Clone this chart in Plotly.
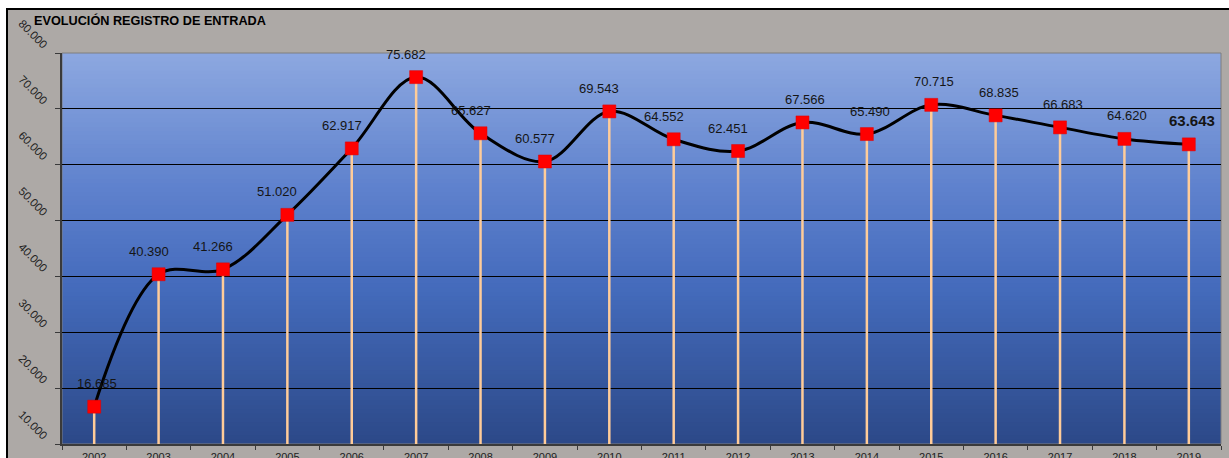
import plotly.graph_objects as go

# ---- data ----
years = [str(y) for y in range(2002, 2020)]
values = [16685, 40390, 41266, 51020, 62917, 75682, 65627, 60577, 69543,
          64552, 62451, 67566, 65490, 70715, 68835, 66683, 64620, 63643]
y_ticks = [10000, 20000, 30000, 40000, 50000, 60000, 70000, 80000]
title_text = "EVOLUCIÓN REGISTRO DE ENTRADA"
# horizontal nudge (px) of each value label, as placed in the original
label_nudge = [3, -10, -10, -10, -10, -10, -10, -10, -10, -10, -10, 3, 3, 3, 3, 3, 3, 3]

W, H = 1229, 458
ML, MR, MT, MB = 62, 8, 53, 14
PW, PH = W - ML - MR, H - MT - MB
y_min, y_max = y_ticks[0], y_ticks[-1]

FONT = "Liberation Sans, Arial, sans-serif"


def px_x(p):
    return (p - ML) / PW


def px_y(p):
    return (H - MB - p) / PH


fig = go.Figure()

# drop lines (stems) from the axis floor up to each point
fig.add_trace(go.Scatter(
    x=years, y=values, mode="markers",
    marker=dict(size=1, opacity=0),
    error_y=dict(type="data", symmetric=False,
                 array=[0] * len(values),
                 arrayminus=[v - y_min for v in values],
                 color="#FFCC99", thickness=2.5, width=0),
    hoverinfo="skip", showlegend=False,
))

# smoothed line with square markers
fig.add_trace(go.Scatter(
    x=years, y=values, mode="lines+markers",
    line=dict(color="black", width=3, shape="spline", smoothing=1),
    marker=dict(symbol="square", size=13, color="#FF0000",
                line=dict(color="#E00000", width=0.5)),
    showlegend=False,
))

# value labels (category axis: annotation x is the category index)
last = len(values) - 1
for i, v in enumerate(values):
    txt = f"{v:,}".replace(",", ".")
    bold = i == last
    fig.add_annotation(
        x=i, y=v, xref="x", yref="y", text=f"<b>{txt}</b>" if bold else txt,
        showarrow=False, xanchor="center", yanchor="middle",
        yshift=24 if bold else 23, xshift=label_nudge[i],
        font=dict(family=FONT, size=15 if bold else 13, color="#151515"),
    )

# chart title
fig.add_annotation(
    x=px_x(32), y=px_y(20), xref="paper", yref="paper",
    text=f"<b>{title_text}</b>", showarrow=False,
    xanchor="left", yanchor="middle",
    font=dict(family=FONT, size=12.7, color="black"),
)

shapes = []
# grey chart area with black frame (top/left visible)
shapes.append(dict(type="rect", xref="paper", yref="paper",
                   x0=px_x(7), x1=px_x(W + 60), y0=px_y(H + 60), y1=px_y(9),
                   fillcolor="#ADA9A6", line=dict(color="black", width=2),
                   layer="below"))

# vertical gradient of the plot area
stops = [(0.0, (141, 168, 224)), (0.35, (94, 129, 205)),
         (0.6, (68, 107, 188)), (1.0, (44, 73, 136))]


def grad(t):
    for (t0, c0), (t1, c1) in zip(stops[:-1], stops[1:]):
        if t0 <= t <= t1:
            f = (t - t0) / (t1 - t0)
            return tuple(round(a + (b - a) * f) for a, b in zip(c0, c1))
    return stops[-1][1]


N = 90
for k in range(N):
    t = (k + 0.5) / N  # from top
    c = grad(t)
    shapes.append(dict(type="rect", xref="x domain", yref="y domain",
                       x0=0, x1=1, y0=1 - (k + 1) / N - 0.002, y1=1 - k / N,
                       fillcolor=f"rgb{c}", line=dict(width=0), layer="below"))

# thin grey plot border
shapes.append(dict(type="rect", xref="x domain", yref="y domain",
                   x0=0, x1=1, y0=0, y1=1, fillcolor="rgba(0,0,0,0)",
                   line=dict(color="#7F7F7F", width=1), layer="below"))

fig.update_layout(
    width=W, height=H,
    margin=dict(l=ML, r=MR, t=MT, b=MB, pad=0, autoexpand=False),
    paper_bgcolor="white", plot_bgcolor="#5A7FC8",
    separators=",.",
    shapes=shapes,
    showlegend=False,
    hovermode=False,
    font=dict(family=FONT, color="#222"),
    xaxis=dict(type="category", categoryorder="array", categoryarray=years,
               range=[-0.5, len(years) - 0.5], automargin=False,
               showgrid=False, showline=True, linecolor="#3A3A3A", linewidth=2,
               ticks="outside", tickson="boundaries", ticklen=4, tickcolor="#3A3A3A",
               ticklabelstandoff=2,
               tickfont=dict(family=FONT, size=11, color="#222"),
               fixedrange=True, zeroline=False),
    yaxis=dict(range=[y_min, y_max], tickvals=y_ticks, tickformat=",.0f",
               automargin=False,
               showgrid=True, gridcolor="black", gridwidth=1,
               showline=True, linecolor="#3A3A3A", linewidth=2,
               ticks="outside", ticklen=5, tickcolor="#3A3A3A",
               tickangle=45, ticklabelshift=-6, ticklabelstandoff=6,
               tickfont=dict(family=FONT, size=11.5, color="#222"),
               zeroline=False, fixedrange=True),
)

fig.write_html("out.html", config={"displayModeBar": False},
               post_script="document.body.style.margin='0';")
